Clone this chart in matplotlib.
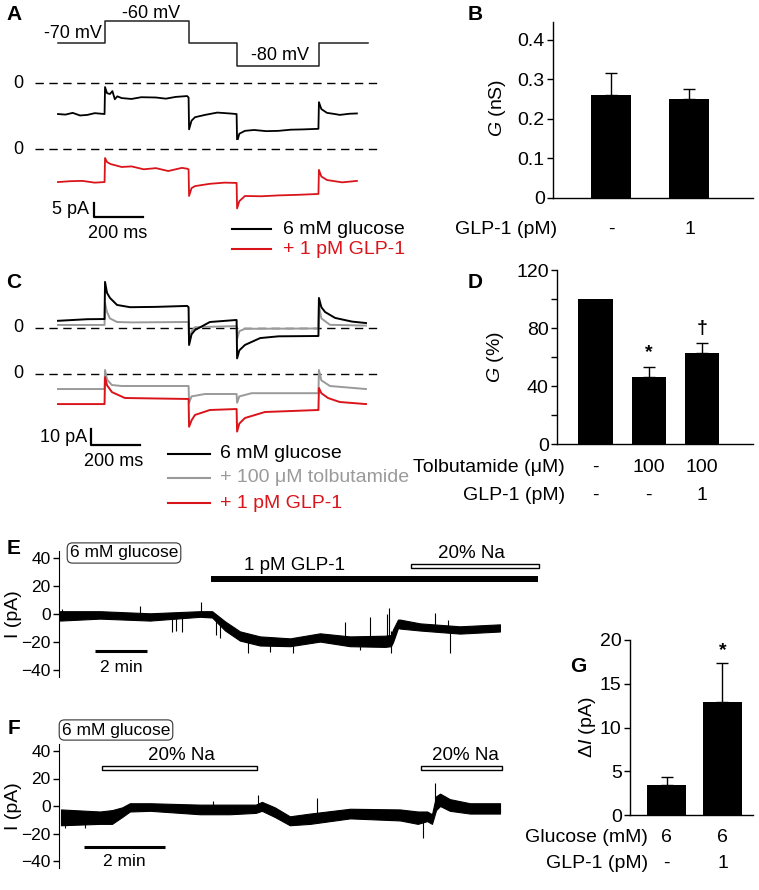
import numpy as np
import matplotlib.pyplot as plt
from matplotlib.patches import Rectangle
from matplotlib.transforms import blended_transform_factory

plt.rcParams['font.family'] = ['Liberation Sans', 'DejaVu Sans']
plt.rcParams['mathtext.fontset'] = 'custom'
plt.rcParams['mathtext.rm'] = 'Liberation Sans'
plt.rcParams['mathtext.it'] = 'Liberation Sans:italic'

# ================= data =================
# voltage protocol (ms, mV)
step_t = [0, 192, 535, 731, 1065, 1265]
step_v = [-70, -60, -70, -80, -70, -70]

# panel A traces (ms, pA)
a_ctrl_t = [0, 30, 60, 90, 120, 150, 190, 192, 200, 212, 222, 232, 242, 260, 300, 340,
            400, 440, 480, 527, 533, 535, 545, 559, 600, 650, 700, 729, 731, 740, 763,
            800, 850, 900, 950, 1000, 1063, 1065, 1075, 1098, 1130, 1150, 1190, 1220]
a_ctrl_i = [-10.7, -10.9, -10.3, -11.2, -11, -10.4, -10.7, -1.4, -3.5, -3.8, -2.8, -5.6,
            -4.6, -5.2, -5.5, -4.9, -5.0, -5.4, -4.8, -4.5, -5, -16, -13, -11.8, -11,
            -10.2, -10.5, -10.7, -20.3, -17.5, -16.5, -16.2, -16.6, -16.5, -16.1, -16,
            -15.8, -6.6, -9, -10.3, -10.7, -11.0, -10.6, -10.5]
a_glp_t = [0, 50, 100, 150, 190, 192, 200, 215, 260, 300, 350, 400, 450, 506, 527, 533,
           535, 545, 559, 620, 680, 729, 731, 740, 763, 830, 900, 980, 1063, 1065, 1075,
           1098, 1160, 1220]
a_glp_i = [-11.4, -11.1, -11.0, -11.6, -11.4, -3.1, -4.5, -5.2, -6.2, -6.0, -7.0, -6.6,
           -7.6, -6.5, -6.8, -7, -16.2, -13.5, -12.8, -12, -11.6, -11.7, -20.5, -18.0,
           -16.2, -16.3, -16.0, -15.8, -15.5, -7.2, -9.5, -10.7, -11.5, -11.0]

# panel C traces (ms, pA)
c_ctrl_t = [0, 120, 190, 192, 200, 212, 241, 294, 400, 527, 533, 535, 545, 559, 620,
            727, 729, 731, 740, 763, 825, 900, 1061, 1063, 1065, 1075, 1090, 1131, 1200, 1257]
c_ctrl_i = [4.5, 5.5, 5.6, 28.8, 22, 18.8, 14.4, 13, 13.2, 13.8, 13, -10.6, -4, -1.3,
            3.75, 5, 5, -19, -14, -10.6, -6.3, -5.2, -5, -5, 18.8, 13, 10, 6.3, 4, 3.1]
c_tolb1_t = [0, 190, 192, 200, 212, 241, 300, 527, 533, 535, 545, 559, 727, 729, 731,
             740, 763, 1063, 1065, 1075, 1110, 1257]
c_tolb1_i = [1.9, 1.9, 15.6, 10, 6, 3.75, 3.5, 3.75, 3.75, -9.4, -2, 0.5, 1.2, 1.2, -7,
             -2, -0.5, -0.3, 14, 6, 2, 1.5]
c_tolb2_t = [0, 190, 192, 200, 220, 260, 527, 533, 535, 545, 600, 727, 729, 731, 740,
             790, 1063, 1065, 1075, 1110, 1257]
c_tolb2_i = [-9.4, -9.4, 2.5, -3.5, -6.9, -7.5, -7.5, -7.5, -18, -14, -12.5, -12.5,
             -12.5, -18, -14, -12, -12, 2.5, -4, -7.5, -9.4]
c_glp_t = [0, 190, 192, 200, 220, 273, 527, 533, 535, 545, 559, 620, 727, 729, 731, 740,
           763, 845, 1061, 1063, 1065, 1075, 1102, 1150, 1257]
c_glp_i = [-18.8, -18.8, -1.9, -7, -11.3, -15, -15.6, -15.6, -33, -29, -25.6, -22.5,
           -21.9, -21.9, -36, -31, -27.5, -23.75, -22.5, -22.5, -8.75, -12, -15, -17.5, -18.8]

# panel B
b_vals = [0.26, 0.25]
b_errs = [0.055, 0.025]
b_glp = ['-', '1']

# panel D
d_vals = [100, 46, 62.5]
d_errs = [0, 7, 7]
d_tolb = ['-', '100', '100']
d_glp = ['-', '-', '1']
d_marks = ['', '*', '\u2020']

# panel G
g_vals = [3.4, 12.9]
g_errs = [0.9, 4.5]
g_gluc = ['6', '6']
g_glp = ['-', '1']
g_marks = ['', '*']

# panel E (min, pA): noise envelope and spikes
e_t = [0, 1.54, 3.46, 5.38, 5.85, 6.35, 6.92, 7.69, 8.85, 10.0, 11.15, 12.5, 12.73,
       12.81, 13.0, 13.08, 13.85, 15.38, 16.92]
e_hi = [2, 2, 0.5, 2, 2, -5.3, -12.4, -16, -17.4, -13.8, -16, -15.5, -15, -11, -4, -4,
        -6.7, -8.8, -7.4]
e_lo = [-4.7, -3.3, -4.7, -2, -2.5, -11.8, -19, -22.5, -23, -19.7, -23, -23.5, -23,
        -20, -10, -10.4, -11.8, -14, -12.5]
e_spk_t = [0.08, 3.08, 4.31, 4.46, 4.69, 5.42, 6.0, 6.15, 7.23, 8.08, 8.96, 10.96,
           11.54, 11.92, 12.58, 12.65, 12.73, 14.42, 14.92, 15.0]
e_spk_lo = [-2, -1, -13, -12, -13, -2, -15, -17, -28, -27, -28, -16, -26, -16, -16, -16,
            -28, -10, -10, -28]
e_spk_hi = [3.5, 6, -2, -2, -2, 8.5, -3, -6, -18, -19, -20, -6, -18, -2, 0, 4.5, -12,
            0.5, -4, -12]
e_glp_on = [5.81, 18.38]
e_na_on = [13.5, 18.42]

# panel F
f_t = [0, 0.96, 1.26, 1.51, 1.70, 2.20, 3.43, 4.17, 4.81, 4.96, 5.28, 5.65, 6.15, 7.14,
       8.37, 8.81, 9.04, 9.16, 9.26, 9.36, 9.60, 10.1, 10.84]
f_hi = [-2.5, -4, -3, -1, 2, 2, 1, 1, 1, 3, -1, -7.5, -5.5, -2, -2.5, -4, -4, -6, 7, 9,
        5, 2, 2]
f_lo = [-14, -13, -13, -8, -4, -3.5, -6, -6, -5, -3.5, -8, -14, -13, -9, -10.5, -13,
        -11, -13, -3, 0, -3.5, -5.5, -5.5]
f_spk_t = [0.1, 0.6, 3.75, 4.86, 6.32, 8.94, 9.23]
f_spk_lo = [-16, -16, 0, -2, -6, -23, 0]
f_spk_hi = [-8, -10, 4, 8, 6, -10, 17]
f_na_on = [[1.01, 4.84], [8.89, 10.89]]

RED = '#d9151b'
GRAY = '#9a9a9a'
# ======================================

W, H = 759, 890
fig = plt.figure(figsize=(W / 100, H / 100), dpi=100)


def px_axes(x0, y0, x1, y1):
    ax = fig.add_axes([x0 / W, 1 - y1 / H, (x1 - x0) / W, (y1 - y0) / H])
    ax.patch.set_visible(False)
    return ax


ov = px_axes(0, 0, W, H)
ov.set_xlim(0, W)
ov.set_ylim(H, 0)
ov.axis('off')
ov.set_zorder(10)

MS_PER_PX = 200 / 49


def trace_axes(top, bottom, zero, s):
    ax = px_axes(30, top, 380, bottom)
    ax.set_xlim((30 - 58) * MS_PER_PX, (380 - 58) * MS_PER_PX)
    ax.set_ylim(-(bottom - zero) / s, (zero - top) / s)
    ax.axis('off')
    ax.axhline(0, xmin=5 / 350, xmax=1, color='black', lw=1, dashes=(6, 4))
    return ax


# -------- panel A --------
ax_p = px_axes(30, 5, 380, 75)
ax_p.set_xlim((30 - 58) * MS_PER_PX, (380 - 58) * MS_PER_PX)
ax_p.set_ylim(-84, -52.9)
ax_p.axis('off')
ax_p.step(step_t, step_v, where='post', color='#222222', lw=1.1)
ov.text(73, 34, '-70 mV', ha='center', va='center', fontsize=13)
ov.text(151, 13, '-60 mV', ha='center', va='center', fontsize=13)
ov.text(280, 55, '-80 mV', ha='center', va='center', fontsize=13)

ax_a1 = trace_axes(75, 140, 83, 2.9)
ax_a1.plot(a_ctrl_t, a_ctrl_i, color='black', lw=1.3)
ax_a2 = trace_axes(141, 225, 149, 2.9)
ax_a2.plot(a_glp_t, a_glp_i, color=RED, lw=1.3)
ax_a2.plot([147, 147, 347], [-18.6, -23.4, -23.4], color='black', lw=1.6, clip_on=False)
for y0 in (83, 149):
    ov.text(18, y0, '0', ha='center', va='center', fontsize=13)
ov.text(89, 210, '5 pA', ha='right', va='center', fontsize=13)
ov.text(118, 233, '200 ms', ha='center', va='center', fontsize=13)
ov.plot([232, 271], [229, 229], color='black', lw=1.5)
ov.plot([232, 271], [249, 249], color=RED, lw=1.5)
ov.text(283, 229, '6 mM glucose', ha='left', va='center', fontsize=14)
ov.text(283, 249, '+ 1 pM GLP-1', ha='left', va='center', fontsize=14, color=RED)

# -------- panel C --------
ax_c1 = trace_axes(270, 365, 328, 1.6)
ax_c1.plot(c_tolb1_t, c_tolb1_i, color=GRAY, lw=1.4)
ax_c1.plot(c_ctrl_t, c_ctrl_i, color='black', lw=1.4)
ax_c2 = trace_axes(366, 455, 374, 1.6)
ax_c2.plot(c_tolb2_t, c_tolb2_i, color=GRAY, lw=1.4)
ax_c2.plot(c_glp_t, c_glp_i, color=RED, lw=1.4)
ax_c2.plot([134.7, 134.7, 334.7], [-34.4, -44.4, -44.4], color='black', lw=1.6, clip_on=False)
for y0 in (328, 374):
    ov.text(18, y0, '0', ha='center', va='center', fontsize=13)
ov.text(87, 438, '10 pA', ha='right', va='center', fontsize=13)
ov.text(114, 461, '200 ms', ha='center', va='center', fontsize=13)
for y0, col, lab in [(454, 'black', '6 mM glucose'),
                     (478, GRAY, '+ 100 \u03bcM tolbutamide'),
                     (503, RED, '+ 1 pM GLP-1')]:
    ov.plot([168, 210], [y0, y0], color=col, lw=1.5)
    ov.text(220, y0, lab, ha='left', va='center', fontsize=14, color=col)


# -------- bar panels --------
def bar_axes(x0, y0, x1, y1, xl, yl):
    ax = px_axes(x0, y0, x1, y1)
    ax.set_xlim(*xl)
    ax.set_ylim(*yl)
    for s in ('top', 'right'):
        ax.spines[s].set_visible(False)
    ax.spines['left'].set_linewidth(1)
    ax.spines['bottom'].set_linewidth(1)
    ax.set_xticks([])
    ax.tick_params(axis='y', which='both', direction='out', length=4, width=1,
                   labelsize=14, pad=2)
    return ax


def draw_bars(ax, vals, errs, width):
    x = np.arange(len(vals))
    ax.bar(x, vals, width, color='black', zorder=2)
    for xi, v, e in zip(x, vals, errs):
        if e > 0:
            ax.errorbar(xi, v, yerr=[[0], [e]], fmt='none', ecolor='black',
                        elinewidth=1, capsize=4.5, capthick=1, zorder=1)
    return x


def row_labels(ax, y_px, name, vals, name_x):
    tr = blended_transform_factory(ax.transData, ov.transData)
    ov.text(name_x, y_px, name, ha='right', va='center', fontsize=14)
    for i, v in enumerate(vals):
        ax.text(i, y_px, v, transform=tr, ha='center', va='center', fontsize=14)


# B
ax_b = bar_axes(553, 22, 753, 198, (-0.739, 1.81), (0, 0.445))
draw_bars(ax_b, b_vals, b_errs, 0.51)
ax_b.set_yticks([0, 0.1, 0.2, 0.3, 0.4])
ax_b.set_yticklabels(['0', '0.1', '0.2', '0.3', '0.4'])
ov.text(497, 108, '$G$ (nS)', rotation=90, ha='center', va='center', fontsize=14)
row_labels(ax_b, 229, 'GLP-1 (pM)', b_glp, 557)

# D
ax_d = bar_axes(557, 270, 753, 444, (-0.723, 2.958), (0, 120))
xd = draw_bars(ax_d, d_vals, d_errs, 0.64)
ax_d.set_yticks([0, 40, 80, 120])
ax_d.set_yticks([20, 60, 100], minor=True)
for xi, v, e, m in zip(xd, d_vals, d_errs, d_marks):
    if m:
        ax_d.text(xi, v + e + 4, m, ha='center', va='bottom', fontsize=14,
                  fontweight='bold')
ov.text(495, 357, '$G$ (%)', rotation=90, ha='center', va='center', fontsize=14)
row_labels(ax_d, 467, 'Tolbutamide (\u03bcM)', d_tolb, 565)
row_labels(ax_d, 495, 'GLP-1 (pM)', d_glp, 565)

# G
ax_g = bar_axes(630, 640, 753, 815, (-0.652, 1.545), (0, 20))
xg = draw_bars(ax_g, g_vals, g_errs, 0.70)
ax_g.set_yticks([0, 5, 10, 15, 20])
for xi, v, e, m in zip(xg, g_vals, g_errs, g_marks):
    if m:
        ax_g.text(xi, v + e + 0.4, m, ha='center', va='bottom', fontsize=14,
                  fontweight='bold')
ov.text(587, 727, '\u0394$I$ (pA)', rotation=90, ha='center', va='center', fontsize=14)
row_labels(ax_g, 837, 'Glucose (mM)', g_gluc, 648)
row_labels(ax_g, 863, 'GLP-1 (pM)', g_glp, 648)


# -------- panels E / F --------
def ephys_axes(zero_px, s, x0_px, px_per_min):
    top = zero_px - 45 * s
    bot = zero_px + 45 * s
    ax = px_axes(59, top, 545, bot)
    ax.set_xlim((59 - x0_px) / px_per_min, (545 - x0_px) / px_per_min)
    ax.set_ylim(-45, 45)
    for sp in ('top', 'right', 'bottom'):
        ax.spines[sp].set_visible(False)
    ax.spines['left'].set_bounds(-45, 45)
    ax.set_xticks([])
    ax.set_yticks([-40, -20, 0, 20, 40])
    ax.tick_params(axis='y', direction='out', length=4, width=1, labelsize=12.5, pad=2)
    return ax


ax_e = ephys_axes(614, 1.4, 60, 26)
ax_e.fill_between(e_t, e_lo, e_hi, color='black', lw=0.8)
ax_e.vlines(e_spk_t, e_spk_lo, e_spk_hi, color='black', lw=0.8)
ax_e.plot(e_glp_on, [25, 25], color='black', lw=4.3, solid_capstyle='butt', clip_on=False)
ax_e.add_patch(Rectangle((e_na_on[0], 32.7), e_na_on[1] - e_na_on[0], 3.2,
                         fc='white', ec='black', lw=1, clip_on=False))
ax_e.plot([1.35, 3.35], [-26.4, -26.4], color='black', lw=2.2, solid_capstyle='butt')
ov.text(14, 614, 'I (pA)', rotation=90, ha='center', va='center', fontsize=14)
ov.text(124, 553, '6 mM glucose', ha='center', va='center', fontsize=12.5,
        bbox=dict(boxstyle='round,pad=0.15,rounding_size=0.3', fc='white', ec='#333333', lw=0.8))
ov.text(295, 566, '1 pM GLP-1', ha='center', va='center', fontsize=13.5)
ov.text(471, 553, '20% Na', ha='center', va='center', fontsize=13.5)
ov.text(121, 668, '2 min', ha='center', va='center', fontsize=12.5)

ax_f = ephys_axes(806, 1.375, 61, 40.5)
ax_f.fill_between(f_t, f_lo, f_hi, color='black', lw=0.8)
ax_f.vlines(f_spk_t, f_spk_lo, f_spk_hi, color='black', lw=0.8)
for t0, t1 in f_na_on:
    ax_f.add_patch(Rectangle((t0, 26), t1 - t0, 3.3, fc='white', ec='black', lw=1,
                             clip_on=False))
ax_f.plot([0.57, 2.57], [-29.8, -29.8], color='black', lw=2.2, solid_capstyle='butt')
ov.text(14, 806, 'I (pA)', rotation=90, ha='center', va='center', fontsize=14)
ov.text(116, 730, '6 mM glucose', ha='center', va='center', fontsize=12.5,
        bbox=dict(boxstyle='round,pad=0.15,rounding_size=0.3', fc='white', ec='#333333', lw=0.8))
ov.text(181, 755, '20% Na', ha='center', va='center', fontsize=13.5)
ov.text(465, 755, '20% Na', ha='center', va='center', fontsize=13.5)
ov.text(124, 862, '2 min', ha='center', va='center', fontsize=12.5)

# -------- panel letters --------
for lab, x, y in [('A', 14, 15), ('B', 475, 15), ('C', 14, 282), ('D', 475, 283),
                  ('E', 14, 549), ('F', 14, 728), ('G', 578, 667)]:
    ov.text(x, y, lab, ha='center', va='center', fontsize=15, fontweight='bold')

fig.savefig('out.png', dpi=100)
